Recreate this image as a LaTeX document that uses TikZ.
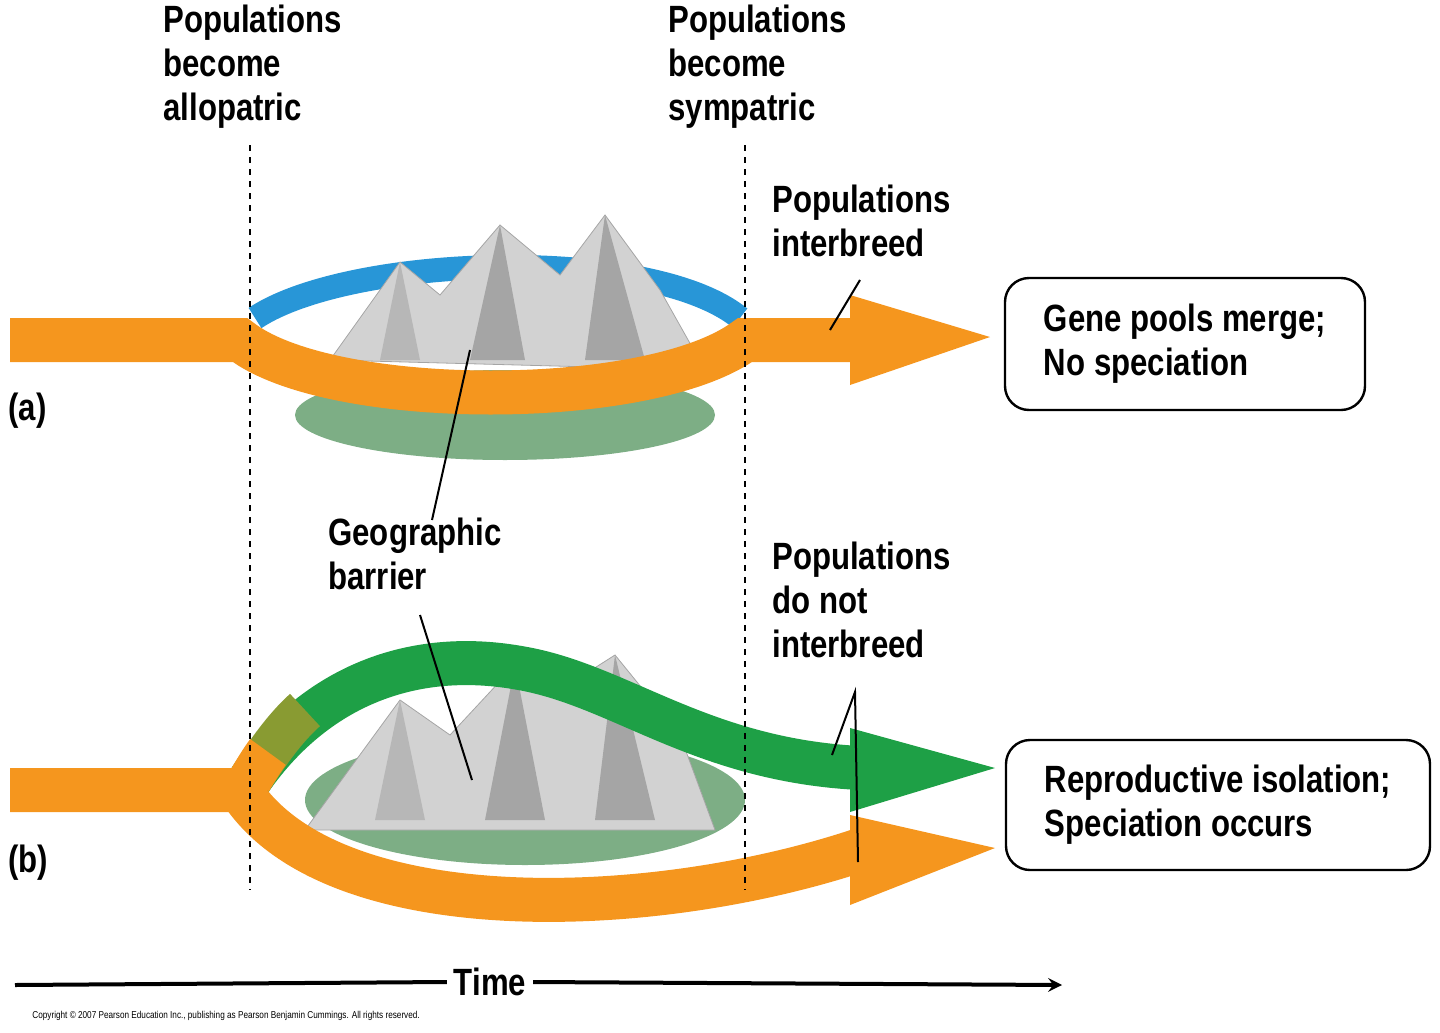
\documentclass[tikz,border=0pt]{standalone}
\usepackage{fontspec}
\setmainfont{Liberation Sans}[FakeStretch=0.82]
\begin{document}
\begin{tikzpicture}[x=0.5pt,y=-0.5pt,
 lbl/.style={font=\fontsize{19}{22}\selectfont\bfseries,align=left,anchor=north west,inner sep=0},
 box/.style={draw,line width=1.2pt,rounded corners=12pt,font=\fontsize{19}{22}\selectfont\bfseries,align=left,inner sep=0},
 band/.style={line width=22pt},
 pin/.style={line width=1pt}]
\useasboundingbox (0,0) rectangle (1440,1033);
\definecolor{org}{RGB}{245,150,30}
\definecolor{blu}{RGB}{40,150,215}
\definecolor{grn}{RGB}{30,160,70}
\definecolor{frs}{RGB}{70,140,80}
\definecolor{rk}{RGB}{210,210,210}
\definecolor{rkd}{RGB}{165,165,165}
% panel a
\draw[line width=12pt,blu] (255,318) .. controls (350,255) and (650,245) .. (740,318);
\fill[frs!70] (505,415) ellipse (210 and 45);
\fill[rk,draw=rkd] (330,360) -- (400,262) -- (440,295) -- (500,225) -- (560,275) -- (605,215) -- (660,290) -- (705,370) -- cycle;
\fill[rkd] (500,225) -- (470,360) -- (525,360) -- cycle;
\fill[rkd] (605,215) -- (585,360) -- (645,360) -- cycle;
\fill[rkd!80] (400,262) -- (380,360) -- (420,360) -- cycle;
\draw[band,org] (10,340) -- (240,340) .. controls (330,410) and (650,410) .. (745,340) -- (860,340);
\fill[org] (850,295) -- (990,337) -- (850,385) -- cycle;
% panel b
\fill[frs!70] (525,800) ellipse (220 and 65);
\fill[rk,draw=rkd] (305,830) -- (400,700) -- (450,735) -- (515,665) -- (560,690) -- (615,655) -- (680,735) -- (715,830) -- cycle;
\fill[rkd] (515,665) -- (485,820) -- (545,820) -- cycle;
\fill[rkd] (615,655) -- (595,820) -- (655,820) -- cycle;
\fill[rkd!80] (400,700) -- (375,820) -- (425,820) -- cycle;
\draw[band,grn] (250,780) .. controls (320,680) and (420,650) .. (520,668) .. controls (620,685) and (700,760) .. (860,768);
\draw[band,org!50!grn] (250,780) .. controls (268,752) and (285,728) .. (305,710);
\draw[band,org] (250,780) .. controls (256,770) and (262,760) .. (268,752);
\fill[grn] (850,728) -- (995,768) -- (850,812) -- cycle;
\draw[band,org] (10,790) -- (240,790) .. controls (330,930) and (650,920) .. (860,850);
\fill[org] (850,815) -- (995,848) -- (850,905) -- cycle;
% dashed lines
\draw[dashed,line width=0.8pt] (250,145) -- (250,890);
\draw[dashed,line width=0.8pt] (745,145) -- (745,890);
% labels
\node[lbl] (t1) at (163,5) {Populations\\become\\allopatric};
\node[lbl] (t2) at (668,5) {Populations\\become\\sympatric};
\node[lbl] (t3) at (772,185) {Populations\\interbreed};
\node[lbl] (t4) at (328,518) {Geographic\\barrier};
\node[lbl] (t5) at (772,542) {Populations\\do not\\interbreed};
\node[lbl] (la) at (8,393) {(a)};
\node[lbl] (lb) at (8,845) {(b)};
\node[box,minimum width=180pt,minimum height=66pt] (bx1) at (1185,344) {Gene pools merge;\\No speciation};
\node[box,minimum width=212pt,minimum height=65pt] (bx2) at (1218,805) {Reproductive isolation;\\Speciation occurs};
\coordinate (p1) at (860,280); \coordinate (p1e) at (830,330);
\draw[pin] (p1) -- (p1e);
\coordinate (g1) at (432,520); \coordinate (g1e) at (470,350);
\coordinate (g2) at (420,615); \coordinate (g2e) at (472,780);
\draw[pin] (g1) -- (g1e); \draw[pin] (g2) -- (g2e);
\coordinate (d0) at (855,692); \coordinate (d1) at (832,755); \coordinate (d2) at (858,862);
\draw[pin] (d1) -- (d0) -- (d2);
% time
\node[font=\fontsize{19}{22}\selectfont\bfseries] (time) at (490,982) {Time};
\coordinate (tl) at (15,985); \coordinate (tr) at (1062,985);
\draw[line width=2pt] (tl) -- (time.west);
\draw[line width=2pt,-stealth] (time.east) -- (tr);
\node[font=\fontsize{5}{6}\selectfont,anchor=west,inner sep=0] (cp) at (32,1016) {Copyright © 2007 Pearson Education Inc., publishing as Pearson Benjamin Cummings. All rights reserved.};
\end{tikzpicture}
\end{document}
